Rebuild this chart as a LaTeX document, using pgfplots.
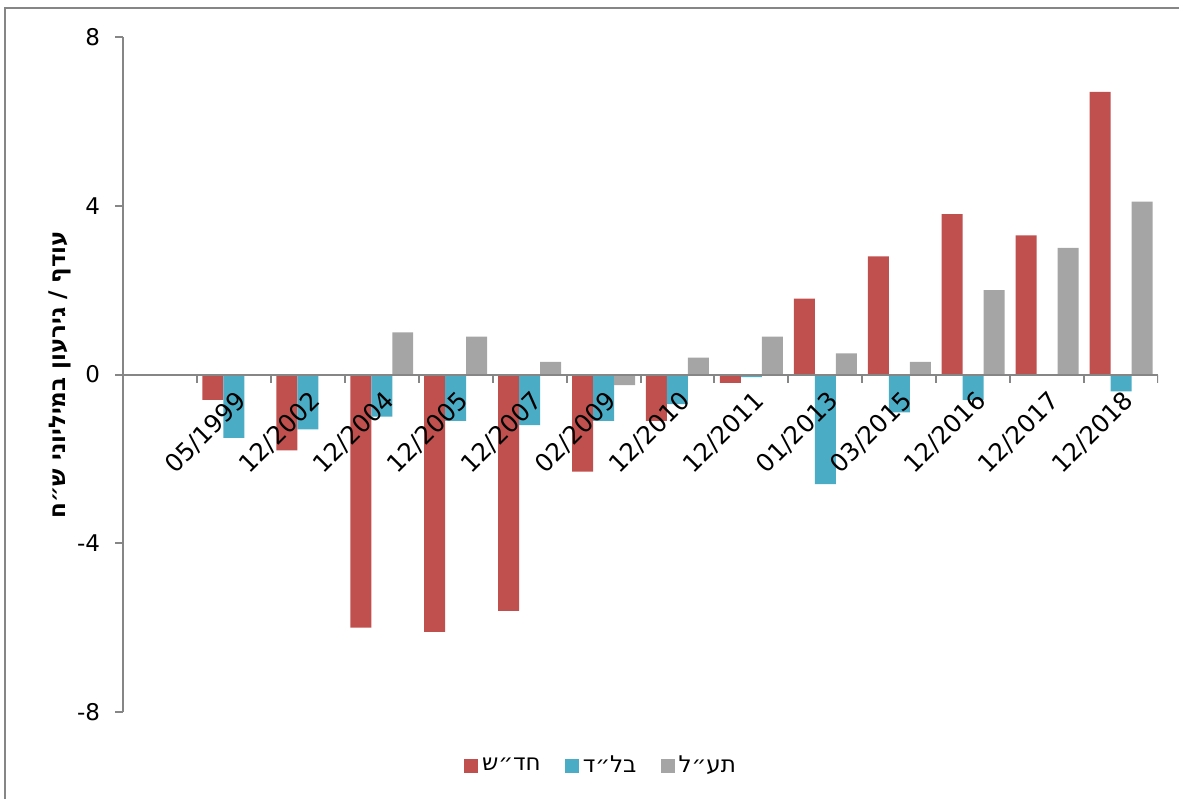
\documentclass[border=0pt]{standalone}
\usepackage{pgfplots}
\pgfplotsset{compat=1.18}
\usepackage{fontspec}
\setmainfont{DejaVu Sans}
\newfontfamily\hebfont[Script=Hebrew]{DejaVu Sans}
\TeXXeTstate=1
\definecolor{cred}{HTML}{C0504D}
\definecolor{cblue}{HTML}{4BACC6}
\definecolor{cgray}{HTML}{A5A5A5}
\definecolor{axgray}{HTML}{868686}
\begin{document}
\begin{tikzpicture}[font=\fontsize{11.5}{14}\selectfont]
\useasboundingbox (0,0) rectangle (589.5pt,399.5pt);
\draw[axgray, line width=1pt] (2.5pt,0) -- (2.5pt,395.5pt) -- (589.5pt,395.5pt);
\begin{axis}[
  at={(61.5pt,43.5pt)}, anchor=south west,
  scale only axis, width=517.5pt, height=337.5pt,
  axis on top,
  axis x line=middle, axis y line=left,
  axis line style={axgray, line width=1pt, -},
  xmin=-0.5, xmax=13.5, ymin=-8, ymax=8,
  ytick={-8,-4,0,4,8},
  ytick align=outside,
  major tick length=4pt,
  tick style={axgray, line width=1pt},
  /pgf/number format/assume math mode=true,
  xtick={1,...,13},
  xticklabels={05/1999,12/2002,12/2004,12/2005,12/2007,02/2009,12/2010,12/2011,01/2013,03/2015,12/2016,12/2017,12/2018},
  x tick style={draw=none},
  xticklabel style={font=\fontsize{12.3}{14}\selectfont, inner sep=0pt, xshift=0.5pt, yshift=-3pt, rotate=45, anchor=north east},
  yticklabel style={xshift=-4pt},
  ylabel={\hebfont\bfseries\beginR עודף / גירעון במיליוני ש״ח\endR},
  ylabel style={at={(axis description cs:-0.0609,0.5)}, anchor=center},
  ybar=0pt, bar width=0.284,
  legend style={at={(axis description cs:0.4628,-0.08)}, anchor=center, draw=none,
    legend columns=-1, /tikz/every even column/.append style={column sep=10pt},
    font=\fontsize{11.5}{14}\hebfont},
  legend image code/.code={\fill[#1] (0pt,-3.5pt) rectangle (7pt,3.5pt);},
]
\addplot[fill=cred, draw=none] coordinates {(1,-0.6)(2,-1.8)(3,-6.0)(4,-6.1)(5,-5.6)(6,-2.3)(7,-1.1)(8,-0.2)(9,1.8)(10,2.8)(11,3.8)(12,3.3)(13,6.7)};
\addplot[fill=cblue, draw=none] coordinates {(1,-1.5)(2,-1.3)(3,-1.0)(4,-1.1)(5,-1.2)(6,-1.1)(7,-0.7)(8,-0.06)(9,-2.6)(10,-0.9)(11,-0.6)(12,0)(13,-0.4)};
\addplot[fill=cgray, draw=none] coordinates {(1,0)(2,0)(3,1.0)(4,0.9)(5,0.3)(6,-0.25)(7,0.4)(8,0.9)(9,0.5)(10,0.3)(11,2.0)(12,3.0)(13,4.1)};
\legend{\beginR חד״ש\endR,\beginR בל״ד\endR,\beginR תע״ל\endR}
\pgfplotsinvokeforeach{-0.5,0.5,...,13.5}{\draw[axgray, line width=1pt] (axis cs:#1,0) -- ([yshift=-4pt]axis cs:#1,0);}
\end{axis}
\end{tikzpicture}
\end{document}
